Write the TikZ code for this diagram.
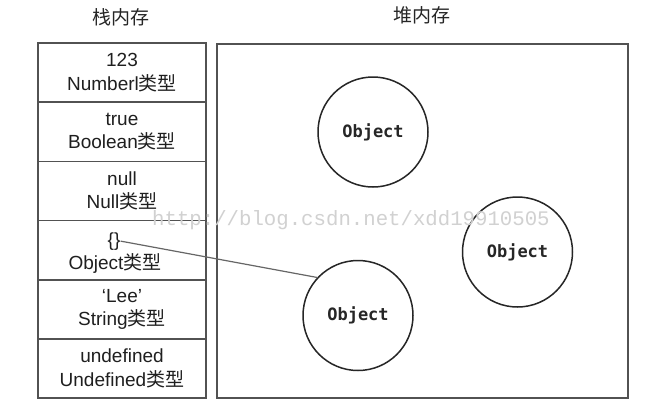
\documentclass[tikz,border=0pt]{standalone}
\usepackage{fontspec}
\setmainfont{Liberation Sans}
\newfontfamily\cjk{Noto Sans CJK SC}
\newfontfamily\objfont{DejaVu Sans Mono}
\newfontfamily\wmfont{Liberation Mono}
\newcommand{\zh}[1]{{\cjk #1}}
\begin{document}
\begin{tikzpicture}[x=1pt,y=-1pt,
  rowbox/.style={draw=black!68,line width=1.6pt,minimum width=168pt,minimum height=59.17pt,inner sep=0pt},
  heapbox/.style={draw=black!68,line width=1.6pt,minimum width=411pt,minimum height=354pt,inner sep=0pt},
  rowtext/.style={align=center,font=\fontsize{19}{23.5}\selectfont,text=black!88,inner sep=0pt},
  objcircle/.style={circle,draw=black!85,line width=1.5pt,minimum size=110pt,inner sep=0pt,font=\objfont\bfseries\fontsize{17}{20}\selectfont,text=black!85},
  header/.style={font=\cjk\fontsize{19}{22}\selectfont,text=black!85},
  link/.style={draw=black!60,line width=1.2pt}]
\useasboundingbox (0,0) rectangle (662,416);
\fill[white] (0,0) rectangle (662,416);
% headers
\node[header] (hstack) at (121,17) {栈内存};
\node[header] (hheap) at (422,15) {堆内存};
% stack rows
\node[rowbox] (r1) at (122,72.6) {};
\node[rowbox] (r2) at (122,131.8) {};
\node[rowbox] (r3) at (122,190.9) {};
\node[rowbox] (r4) at (122,250.1) {};
\node[rowbox] (r5) at (122,309.3) {};
\node[rowbox] (r6) at (122,368.4) {};
\node[rowtext] (t1) at (r1) {123\\Numberl\zh{类型}};
\node[rowtext] (t2) at (r2) {true\\Boolean\zh{类型}};
\node[rowtext] (t3) at (r3) {null\\Null\zh{类型}};
\node[rowtext,anchor=base] (br) at (114,246) {\{\}};
\node[rowtext,anchor=base] (t4) at (115,269.5) {Object\zh{类型}};
\node[rowtext] (t5) at (r5) {`Lee'\\String\zh{类型}};
\node[rowtext] (t6) at (r6) {undefined\\Undefined\zh{类型}};
% heap
\node[heapbox] (heap) at (422.5,221) {};
\node[objcircle] (o1) at (373,132) {Object};
\node[objcircle] (o2) at (517.5,252) {Object};
\node[objcircle] (o3) at (358,315.5) {Object};
% watermark
\node[anchor=base west,inner sep=0pt,text=black!18,font=\wmfont\fontsize{20.7}{24}\selectfont] (wm) at (152,225) {http://blog.csdn.net/xdd19910505};
% connector
\draw[link] (br.east) -- (o3.137);
\end{tikzpicture}
\end{document}
